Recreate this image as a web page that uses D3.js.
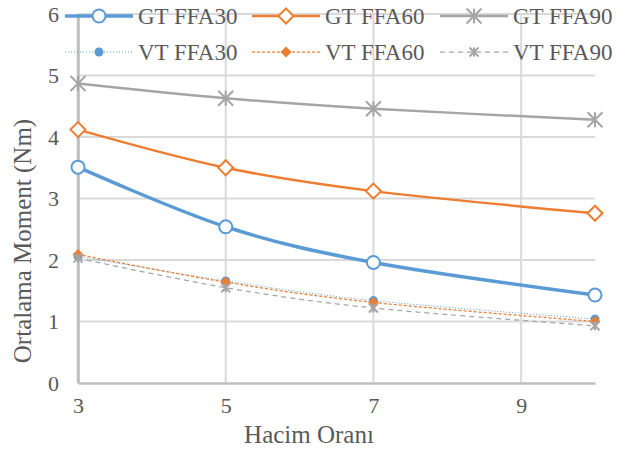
<!DOCTYPE html>
<html><head><meta charset="utf-8">
<script src="https://cdn.jsdelivr.net/npm/d3@7"></script>
<style>body{margin:0;background:#fff}svg{display:block}text{font-family:"Liberation Serif","Times New Roman",serif;fill:#595959}</style>
</head><body><svg id="c" width="622" height="454"></svg>
<script>
const xValues = [3, 5, 7, 10];
const xTicks = [3, 5, 7, 9];
const yTicks = [0, 1, 2, 3, 4, 5, 6];
const seriesNames = ["GT FFA30", "GT FFA60", "GT FFA90", "VT FFA30", "VT FFA60", "VT FFA90"];
const gtFFA30 = [3.51, 2.54, 1.96, 1.43];
const gtFFA60 = [4.12, 3.50, 3.12, 2.76];
const gtFFA90 = [4.87, 4.63, 4.46, 4.28];
const vtFFA30 = [2.06, 1.66, 1.34, 1.04];
const vtFFA60 = [2.09, 1.64, 1.31, 1.00];
const vtFFA90 = [2.03, 1.55, 1.22, 0.93];
const xTitle = "Hacim Oranı";
const yTitle = "Ortalama Moment (Nm)";

const values = [gtFFA30, gtFFA60, gtFFA90, vtFFA30, vtFFA60, vtFFA90];
const styles = [
  {color:"#5B9BD5", w:3.5, dash:null, marker:"ocircle"},
  {color:"#ED7D31", w:2.5, dash:null, marker:"odiamond"},
  {color:"#A5A5A5", w:2.5, dash:null, marker:"star"},
  {color:"#5B9BD5", w:1, dash:"1,2", marker:"fcircle"},
  {color:"#ED7D31", w:1.25, dash:"3,2", marker:"fdiamond"},
  {color:"#A5A5A5", w:1.25, dash:"5,4", marker:"sstar"}
];
const FONT = '"Liberation Serif", "Times New Roman", serif';

const svg = d3.select("#c");
const x = d3.scaleLinear().domain([3, 10]).range([78, 595]);
const y = d3.scaleLinear().domain([0, 6]).range([383, 14]);

// gridlines
svg.append("g").selectAll("line.h").data(yTicks.filter(d=>d>0)).join("line")
  .attr("x1", x(3)).attr("x2", x(10)).attr("y1", d=>y(d)).attr("y2", d=>y(d))
  .attr("stroke", "#D9D9D9").attr("stroke-width", 2);
svg.append("g").selectAll("line.v").data(xTicks.filter(d=>d>3)).join("line")
  .attr("x1", d=>x(d)).attr("x2", d=>x(d)).attr("y1", y(0)).attr("y2", y(6))
  .attr("stroke", "#D9D9D9").attr("stroke-width", 2);

// axes
const yAxis = svg.append("g").attr("transform", `translate(${x(3)},0)`)
  .call(d3.axisLeft(y).tickValues(yTicks).tickFormat(d3.format("d")).tickSize(0).tickPadding(19));
const xAxis = svg.append("g").attr("transform", `translate(0,${y(0)})`)
  .call(d3.axisBottom(x).tickValues(xTicks).tickFormat(d3.format("d")).tickSize(0).tickPadding(14));
[yAxis, xAxis].forEach(a => {
  a.attr("font-family", FONT).attr("font-size", 22);
  a.select(".domain").attr("stroke", "#BFBFBF").attr("stroke-width", 2.5);
  a.selectAll("text").attr("font-family", FONT).attr("font-size", 22).attr("fill", "#595959");
});
svg.append("line").attr("x1", x(3)).attr("x2", x(3)).attr("y1", y(0)).attr("y2", y(6)).attr("stroke", "#BFBFBF").attr("stroke-width", 2.5);

// titles
svg.append("text").attr("x", 309).attr("y", 443).attr("text-anchor", "middle").attr("font-family", FONT).style("font-size", "25px").text(xTitle);
svg.append("text").attr("transform", "translate(31,241) rotate(-90)").attr("text-anchor", "middle").attr("font-family", FONT).style("font-size", "25px").text(yTitle);

function drawMarker(g, type, cx, cy, color) {
  if (type === "ocircle") {
    g.append("circle").attr("cx", cx).attr("cy", cy).attr("r", 6.5).attr("fill", "#fff").attr("stroke", color).attr("stroke-width", 2);
  } else if (type === "odiamond") {
    const s = 7.5;
    g.append("path").attr("d", `M${cx},${cy-s}L${cx+s},${cy}L${cx},${cy+s}L${cx-s},${cy}Z`).attr("fill", "#fff").attr("stroke", color).attr("stroke-width", 2);
  } else if (type === "star") {
    const s = 7.5;
    g.append("path").attr("d", `M${cx-s},${cy-s}L${cx+s},${cy+s}M${cx-s},${cy+s}L${cx+s},${cy-s}M${cx},${cy-s}L${cx},${cy+s}`).attr("stroke", color).attr("stroke-width", 2).attr("fill", "none");
  } else if (type === "fcircle") {
    g.append("circle").attr("cx", cx).attr("cy", cy).attr("r", 4.5).attr("fill", color);
  } else if (type === "fdiamond") {
    const s = 5.5;
    g.append("path").attr("d", `M${cx},${cy-s}L${cx+s},${cy}L${cx},${cy+s}L${cx-s},${cy}Z`).attr("fill", color);
  } else if (type === "sstar") {
    const s = 4.5;
    g.append("path").attr("d", `M${cx-s},${cy-s}L${cx+s},${cy+s}M${cx-s},${cy+s}L${cx+s},${cy-s}M${cx},${cy-s}L${cx},${cy+s}`).attr("stroke", color).attr("stroke-width", 2).attr("fill", "none");
  }
}

const line = d3.line().x(d=>x(d[0])).y(d=>y(d[1])).curve(d3.curveCatmullRom.alpha(0));
values.forEach((vals, i) => {
  const st = styles[i];
  const pts = xValues.map((xv, j) => [xv, vals[j]]);
  const g = svg.append("g");
  g.append("path").attr("d", line(pts)).attr("fill", "none").attr("stroke", st.color)
    .attr("stroke-width", st.w).attr("stroke-dasharray", st.dash);
  pts.forEach(p => drawMarker(g, st.marker, x(p[0]), y(p[1]), st.color));
});

// legend
const legX = [65, 252, 440];
const legY = [16, 52];
seriesNames.forEach((name, i) => {
  const st = styles[i];
  const lx = legX[i % 3], ly = legY[Math.floor(i / 3)];
  const g = svg.append("g");
  g.append("line").attr("x1", lx).attr("x2", lx + 68).attr("y1", ly).attr("y2", ly)
    .attr("stroke", st.color).attr("stroke-width", st.w).attr("stroke-dasharray", st.dash);
  drawMarker(g, st.marker, lx + 34, ly, st.color);
  g.append("text").attr("x", lx + 73).attr("y", ly).attr("dy", "0.34em").attr("font-family", FONT).style("font-size", "23px").text(name);
});
</script></body></html>
